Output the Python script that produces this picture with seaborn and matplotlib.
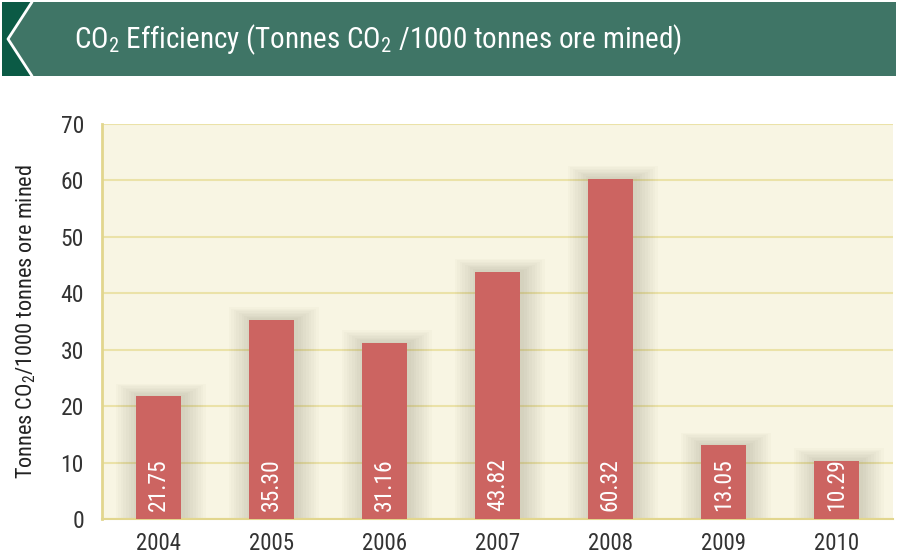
import matplotlib
matplotlib.use("Agg")
import matplotlib.pyplot as plt
from matplotlib.patches import Polygon, Rectangle
from matplotlib.lines import Line2D
import seaborn as sns
import pandas as pd
import numpy as np

years = ["2004", "2005", "2006", "2007", "2008", "2009", "2010"]
values = [21.75, 35.30, 31.16, 43.82, 60.32, 13.05, 10.29]
value_labels = ["21.75", "35.30", "31.16", "43.82", "60.32", "13.05", "10.29"]
yticks = [0, 10, 20, 30, 40, 50, 60, 70]

title = r"CO$_\mathregular{2}$ Efficiency (Tonnes CO$_\mathregular{2}$ /1000 tonnes ore mined)"
ylabel = r"Tonnes CO$_\mathregular{2}$/1000 tonnes ore mined"

sns.set_style("white")
FONT = ["Roboto Condensed", "DejaVu Sans"]
plt.rcParams["font.family"] = FONT
plt.rcParams["mathtext.fontset"] = "custom"
plt.rcParams["mathtext.rm"] = "Roboto Condensed"
plt.rcParams["mathtext.it"] = "Roboto Condensed"
plt.rcParams["mathtext.bf"] = "Roboto Condensed"

W, H = 898, 557
fig = plt.figure(figsize=(W / 100, H / 100), dpi=100)

def fx(px):
    return px / W

def fy(py):
    return 1 - py / H

# header band
fig.patches.append(Rectangle((fx(2), fy(76)), fx(896) - fx(2), fy(2) - fy(76),
                             transform=fig.transFigure, facecolor="#3f7566",
                             edgecolor="none", zorder=0))
fig.patches.append(Polygon([(fx(2), fy(2)), (fx(32), fy(2)), (fx(8), fy(39)),
                            (fx(32), fy(76)), (fx(2), fy(76))],
                           closed=True, transform=fig.transFigure,
                           facecolor="#0b5a45", edgecolor="none", zorder=1))
fig.lines.append(Line2D([fx(32), fx(8), fx(32)], [fy(2), fy(39), fy(76)],
                        transform=fig.transFigure, color="white", lw=2, zorder=2))
fig.text(fx(74), fy(40), title, color="white", fontsize=21, va="center",
         ha="left", family=FONT)

ax = fig.add_axes([fx(102), fy(519), fx(893) - fx(102), fy(124) - fy(519)])
ax.set_facecolor("#f8f5e3")

df = pd.DataFrame({"year": years, "value": values})

# soft shadow layers
for k in range(9, 0, -1):
    ax.bar(np.arange(len(years)) + 0.02, np.array(values) + 0.25 * k,
           width=0.39 + 0.045 * k, color="#6e6a50", alpha=0.028,
           linewidth=0, zorder=1)

sns.barplot(data=df, x="year", y="value", color="#cc6461", saturation=1,
            width=0.39, ax=ax, zorder=3, linewidth=0)

for i, (v, lab) in enumerate(zip(values, value_labels)):
    ax.text(i, 1.4, lab, rotation=90, color="white", fontsize=17,
            ha="center", va="bottom", zorder=4, family=FONT)

ax.set_xlim(-0.5, len(years) - 0.5)
ax.set_ylim(0, 70)
ax.set_yticks(yticks)
ax.set_yticklabels([str(t) for t in yticks], fontsize=17, color="#333333")
ax.yaxis.grid(True, color="#ebe2a8", lw=1.5, zorder=0)
ax.set_axisbelow(True)

ax.set_xticks(range(len(years)))
ax.set_xticklabels(years, fontsize=16.5, color="#333333")
ax.tick_params(axis="x", which="major", length=0, pad=9)
ax.set_xticks(np.arange(-0.5, len(years), 1.0), minor=True)
ax.tick_params(axis="x", which="minor", length=10, width=1.5, color="#e2d68e")
ax.tick_params(axis="y", which="major", length=6, width=1.5, color="#ebe2a8", pad=7)

for s in ["top", "right"]:
    ax.spines[s].set_visible(False)
ax.spines["left"].set_color("#e2d68e")
ax.spines["left"].set_linewidth(2)
ax.spines["bottom"].set_color("#e2d68e")
ax.spines["bottom"].set_linewidth(1.5)

ax.set_xlabel("")
ax.set_ylabel(ylabel, fontsize=16, color="#222222", labelpad=16)

fig.savefig("out.png", dpi=100)
